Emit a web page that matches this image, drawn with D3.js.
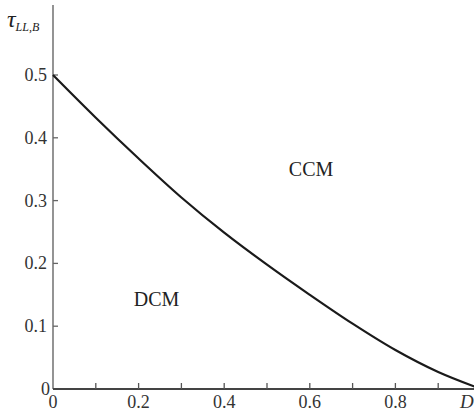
<!DOCTYPE html>
<html><head><meta charset="utf-8">
<script src="https://cdn.jsdelivr.net/npm/d3@7"></script>
<style>
html,body{margin:0;padding:0;background:#fff;}
svg{display:block;}
</style></head>
<body>
<svg id="chart" width="474" height="412" font-family="'Liberation Serif', 'Times New Roman', Times, serif"></svg>
<script>
// Data
const dValues   = [0, 0.1, 0.2, 0.3, 0.4, 0.5, 0.6, 0.7, 0.8, 0.9, 1.0];
const tauValues = [0.5, 0.432, 0.367, 0.305, 0.249, 0.198, 0.150, 0.104, 0.062, 0.027, 0.0];
const xTicks = [0, 0.1, 0.2, 0.3, 0.4, 0.5, 0.6, 0.7, 0.8, 0.9];
const xTickLabels = ["0", "", "0.2", "", "0.4", "", "0.6", "", "0.8", ""];
const yTicks = [0, 0.1, 0.2, 0.3, 0.4, 0.5];
const yTickLabels = ["0", "0.1", "0.2", "0.3", "0.4", "0.5"];
const regionLabels = [{t:"CCM", d:0.603, v:0.339}, {t:"DCM", d:0.242, v:0.132}];

const svg = d3.select("#chart");
const x = d3.scaleLinear().domain([0, 1]).range([53, 481]);
const y = d3.scaleLinear().domain([0, 0.5]).range([389, 75]);

// y axis line
svg.append("line").attr("x1", x(0)).attr("x2", x(0)).attr("y1", 5).attr("y2", y(0))
  .attr("stroke", "#888").attr("stroke-width", 1.8);
// x axis line
svg.append("line").attr("x1", x(0)).attr("x2", 474).attr("y1", y(0)).attr("y2", y(0))
  .attr("stroke", "#444").attr("stroke-width", 2);

// x ticks
svg.selectAll(".xt").data(xTicks.slice(1)).enter().append("line")
  .attr("x1", d => x(d)).attr("x2", d => x(d)).attr("y1", y(0)).attr("y2", y(0) - 6)
  .attr("stroke", "#555").attr("stroke-width", 1.3);
svg.selectAll(".xl").data(xTicks).enter().append("text")
  .attr("x", d => x(d)).attr("y", 408).attr("text-anchor", "middle")
  .attr("font-size", 18).attr("fill", "#333").text((d, i) => xTickLabels[i]);

// y ticks
svg.selectAll(".yt").data(yTicks.slice(1)).enter().append("line")
  .attr("x1", x(0)).attr("x2", x(0) + 5).attr("y1", d => y(d)).attr("y2", d => y(d))
  .attr("stroke", "#666").attr("stroke-width", 1.3);
svg.selectAll(".yl").data(yTicks).enter().append("text")
  .attr("x", (d, i) => i === 0 ? 50 : 47).attr("y", d => y(d) + 6).attr("text-anchor", "end")
  .attr("font-size", 18).attr("fill", "#333").text((d, i) => yTickLabels[i]);

// axis titles
const yt = svg.append("text").attr("x", 7).attr("y", 27).attr("font-size", 24).attr("font-style", "italic").attr("fill", "#222");
yt.append("tspan").text("τ");
yt.append("tspan").attr("font-size", 12).attr("dy", 4).text("LL,B");
svg.append("text").attr("x", 460).attr("y", 408).attr("font-size", 19).attr("font-style", "italic").attr("fill", "#333").text("D");

// curve
const pts = dValues.map((d, i) => [d, tauValues[i]]);
svg.append("path").datum(pts)
  .attr("d", d3.line().x(d => x(d[0])).y(d => y(d[1])).curve(d3.curveCatmullRom))
  .attr("fill", "none").attr("stroke", "#1a1a1a").attr("stroke-width", 2.2);

// region labels
svg.selectAll(".rl").data(regionLabels).enter().append("text")
  .attr("x", d => x(d.d)).attr("y", d => y(d.v)).attr("font-size", 20)
  .attr("text-anchor", "middle").attr("fill", "#222").text(d => d.t);
</script>
</body></html>
